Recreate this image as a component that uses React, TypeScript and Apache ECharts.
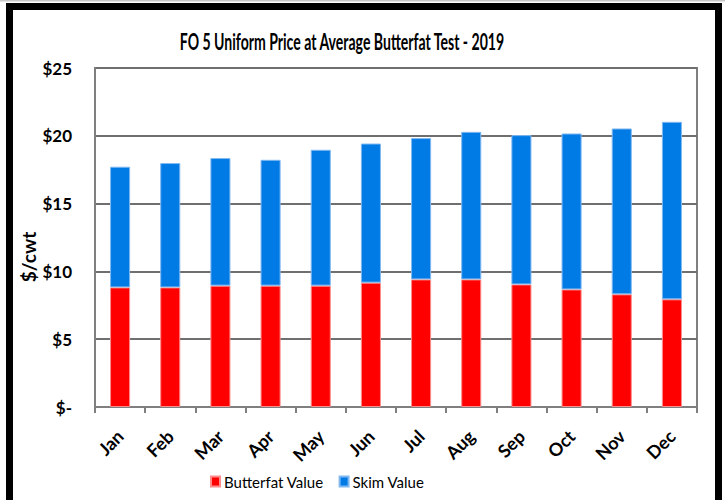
import React, { useEffect, useRef } from "react";
import * as echarts from "echarts";

const months = ["Jan", "Feb", "Mar", "Apr", "May", "Jun", "Jul", "Aug", "Sep", "Oct", "Nov", "Dec"];
const butterfatValue = [8.82, 8.82, 8.95, 8.95, 8.95, 9.17, 9.41, 9.41, 9.04, 8.67, 8.31, 7.94];
const skimValue = [8.9, 9.17, 9.41, 9.28, 10.02, 10.26, 10.42, 10.88, 11.01, 11.5, 12.23, 13.09];
const titleText = "FO 5 Uniform Price at Average Butterfat Test - 2019";
const yAxisTitle = "$/cwt";

const FONT = "Lato, 'Open Sans', sans-serif";

export default function App() {
  const ref = useRef<HTMLDivElement>(null);
  useEffect(() => {
    if (!ref.current) return;
    const chart = echarts.init(ref.current, null, { renderer: "svg" });
    chart.setOption({
      animation: false,
      backgroundColor: "#ffffff",
      legend: {
        data: ["Butterfat Value", "Skim Value"],
        left: 205,
        top: 469,
        itemWidth: 9,
        itemHeight: 10,
        itemGap: 15,
        icon: "rect",
        textStyle: { fontFamily: FONT, fontSize: 15, color: "#000", padding: [0, 0, 0, -1] },
      },
      grid: {
        left: 95,
        top: 68,
        right: 28,
        bottom: 93,
        show: true,
        borderColor: "#7f7f7f",
        borderWidth: 2,
      },
      xAxis: {
        type: "category",
        data: months,
        axisLine: { show: true, lineStyle: { color: "#7f7f7f", width: 2 } },
        axisTick: { show: true, length: 6, lineStyle: { color: "#7f7f7f", width: 2 } },
        axisLabel: {
          rotate: 45,
          margin: 26,
          fontFamily: FONT,
          fontWeight: "bold",
          fontSize: 18,
          color: "#000",
        },
      },
      yAxis: {
        type: "value",
        min: 0,
        max: 25,
        interval: 5,
        axisLine: { show: true, lineStyle: { color: "#7f7f7f", width: 2 } },
        axisTick: { show: false },
        splitLine: { show: true, lineStyle: { color: "#6f6f6f", width: 2 } },
        axisLabel: {
          margin: 23,
          fontFamily: FONT,
          fontWeight: "bold",
          fontSize: 17,
          color: "#000",
          formatter: (v: number) => (v === 0 ? "$-" : "$" + v),
        },
      },
      series: [
        {
          name: "Butterfat Value",
          type: "bar",
          stack: "total",
          data: butterfatValue,
          barWidth: "40%",
          itemStyle: { color: "#ff0000", borderColor: "#ff8c8c", borderWidth: 1 },
        },
        {
          name: "Skim Value",
          type: "bar",
          stack: "total",
          data: skimValue,
          barWidth: "40%",
          itemStyle: { color: "#007be6", borderColor: "#80b8f0", borderWidth: 1 },
        },
      ],
      graphic: [
        {
          type: "text",
          x: 342,
          y: 42,
          scaleX: 0.64,
          style: {
            text: titleText,
            fontFamily: FONT,
            fontWeight: "bold",
            fontSize: 22,
            fill: "#000",
            align: "center",
            verticalAlign: "middle",
          },
        },
        {
          type: "text",
          x: 28,
          y: 257,
          rotation: Math.PI / 2,
          style: {
            text: yAxisTitle,
            fontFamily: FONT,
            fontWeight: "bold",
            fontSize: 19,
            fill: "#000",
            align: "center",
            verticalAlign: "middle",
          },
        },
        {
          type: "line",
          shape: { x1: 0, y1: 0.75, x2: 725, y2: 0.75 },
          style: { stroke: "#c8c8c8", lineWidth: 1.5 },
        },
        {
          type: "rect",
          shape: { x: 9.5, y: 6.5, width: 709, height: 600 },
          style: { fill: "none", stroke: "#000", lineWidth: 7 },
        },
      ],
    });
    return () => chart.dispose();
  }, []);
  return (
    <div
      ref={ref}
      style={{ position: "fixed", left: 0, top: 0, width: 725, height: 500 }}
    />
  );
}
